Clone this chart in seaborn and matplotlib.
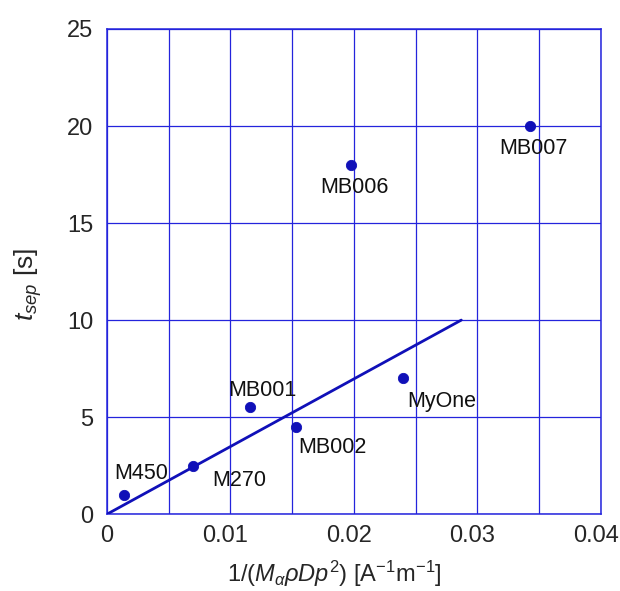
import matplotlib
matplotlib.use("Agg")
import matplotlib.pyplot as plt
import matplotlib.transforms as mtransforms
import seaborn as sns
import pandas as pd

# bead types and measured separation times
beads = ["M450", "M270", "MB001", "MB002", "MB006", "MyOne", "MB007"]
inv_param = [0.0014, 0.0070, 0.0116, 0.0153, 0.0198, 0.0240, 0.0343]
t_sep = [1.0, 2.5, 5.5, 4.5, 18.0, 7.0, 20.0]

# linear trend line
fit_x = [0.0, 0.0287]
fit_y = [0.0, 10.0]

x_ticks = [0, 0.01, 0.02, 0.03, 0.04]
x_tick_labels = ["0", "0.01", "0.02", "0.03", "0.04"]
x_minor = [0.005, 0.015, 0.025, 0.035]
y_ticks = [0, 5, 10, 15, 20, 25]

# label offsets in points (dx, dy)
label_offsets = {
    "M450": (12, 15), "M270": (33, -11), "MB001": (9, 12), "MB002": (26, -15),
    "MB006": (2, -16), "MyOne": (28, -17), "MB007": (2, -16),
}

blue = "#2424dc"
dot = "#1010b8"

sns.set_style("white")
plt.rcParams["font.family"] = ["Liberation Sans", "DejaVu Sans"]
plt.rcParams["mathtext.fontset"] = "custom"
plt.rcParams["mathtext.rm"] = "Liberation Sans"
plt.rcParams["mathtext.it"] = "Liberation Sans:italic"

df = pd.DataFrame({"x": inv_param, "y": t_sep, "bead": beads})

fig, ax = plt.subplots(figsize=(6.2, 5.91), dpi=100)
fig.subplots_adjust(left=0.1726, right=0.969, top=0.951, bottom=0.130)

sns.lineplot(x=fit_x, y=fit_y, ax=ax, color=dot, linewidth=2, zorder=3)
sns.scatterplot(data=df, x="x", y="y", ax=ax, color=dot, s=55, edgecolor=dot, zorder=4)

for _, r in df.iterrows():
    dx, dy = label_offsets[r["bead"]]
    ax.annotate(r["bead"], (r["x"], r["y"]), xytext=(dx, dy), textcoords="offset points",
                ha="center", va="center", fontsize=15.5, color="#111111")

ax.set_xlim(0, 0.04)
ax.set_ylim(0, 25)
ax.set_xticks(x_ticks)
ax.set_xticklabels(x_tick_labels)
ax.set_xticks(x_minor, minor=True)
ax.set_yticks(y_ticks)
ax.tick_params(which="both", labelsize=17, length=0)
ax.tick_params(axis="x", pad=8)
ax.tick_params(axis="y", pad=10)
ax.grid(True, which="both", color=blue, linewidth=0.9)
for s in ax.spines.values():
    s.set_color(blue)
    s.set_linewidth(1.1)

# non-zero x tick labels sit slightly left of their grid lines in the original
shift = mtransforms.ScaledTranslation(-5 / 100, 0, fig.dpi_scale_trans)
for lbl in ax.get_xticklabels()[1:]:
    lbl.set_transform(lbl.get_transform() + shift)

ax.set_xlabel(r"$\mathit{1/(M_{\alpha}\rho Dp^{2})}$ [A$^{-1}$m$^{-1}$]", fontsize=17)
ax.xaxis.set_label_coords(0.46, -0.091)
ax.set_ylabel(r"$\mathit{t_{sep}}$ [s]", fontsize=19)
ax.yaxis.set_label_coords(-0.128, 0.474)

fig.savefig("out.png", dpi=100)
